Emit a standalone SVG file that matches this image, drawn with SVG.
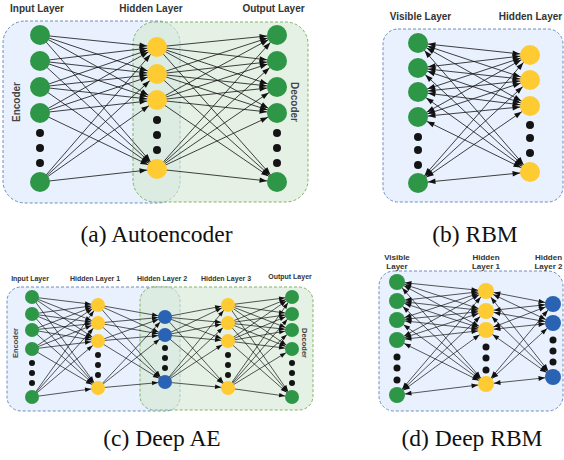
<svg xmlns="http://www.w3.org/2000/svg" width="564" height="460" viewBox="0 0 564 460">
<style>
.bg{fill:#fff}
.rb{fill:#dae8fc;fill-opacity:.62;stroke:#6c8ebf;stroke-dasharray:3 2;stroke-width:1}
.rg{fill:#d5e8d4;fill-opacity:.62;stroke:#82b366;stroke-dasharray:3 2;stroke-width:1}
.g{fill:#2e9747}.y{fill:#ffcb33}.b{fill:#2a63b4}.k{fill:#141414}
.lab{font-family:'Liberation Sans',Arial,sans-serif;font-weight:bold;fill:#333;text-anchor:middle}
.cap{font-family:'Liberation Serif','Times New Roman',serif;font-size:23.5px;fill:#111;text-anchor:middle}
.ca{stroke:#111;stroke-width:.8;fill:none;marker-end:url(#m10)}
.cb{stroke:#111;stroke-width:.8;fill:none;marker-end:url(#m10);marker-start:url(#m10)}
.cc{stroke:#111;stroke-width:.7;fill:none;marker-end:url(#m7)}
.cd{stroke:#111;stroke-width:.7;fill:none;marker-end:url(#m8);marker-start:url(#m8)}
</style>
<defs>
<marker id="m10" markerUnits="userSpaceOnUse" markerWidth="7.5" markerHeight="5.4" refX="17.5" refY="2.7" orient="auto-start-reverse" overflow="visible"><path d="M0,0 L7.5,2.7 L0,5.4 z" fill="#111"/></marker>
<marker id="m7" markerUnits="userSpaceOnUse" markerWidth="6" markerHeight="4.4" refX="13" refY="2.2" orient="auto-start-reverse" overflow="visible"><path d="M0,0 L6,2.2 L0,4.4 z" fill="#111"/></marker>
<marker id="m8" markerUnits="userSpaceOnUse" markerWidth="6.5" markerHeight="4.8" refX="14.5" refY="2.4" orient="auto-start-reverse" overflow="visible"><path d="M0,0 L6.5,2.4 L0,4.8 z" fill="#111"/></marker>
</defs>
<rect class="bg" x="0" y="0" width="564" height="460"/>

<g id="regions">
<rect class="rb" x="3" y="21" width="177" height="182" rx="22"/>
<rect class="rg" x="133" y="22" width="175" height="180" rx="22"/>
<rect class="rb" x="383" y="29" width="180" height="173" rx="15"/>
<rect class="rb" x="7" y="287" width="173" height="124" rx="14"/>
<rect class="rg" x="140" y="287" width="173" height="123" rx="14"/>
<rect class="rb" x="379" y="271" width="184" height="140" rx="15"/>
</g>

<g id="labels">
<text class="lab" x="37" y="12" font-size="10">Input Layer</text>
<text class="lab" x="151" y="12" font-size="10">Hidden Layer</text>
<text class="lab" x="273.5" y="12" font-size="10">Output Layer</text>
<text class="lab" x="16" y="102" font-size="10" dominant-baseline="central" transform="rotate(-90 16 102)" style="fill:#444">Encoder</text>
<text class="lab" x="294" y="102" font-size="10" dominant-baseline="central" transform="rotate(90 294 102)" style="fill:#444">Decoder</text>
<text class="lab" x="420.5" y="20" font-size="10">Visible Layer</text>
<text class="lab" x="530.5" y="20" font-size="10">Hidden Layer</text>
<text class="lab" x="30" y="281" font-size="7">Input Layer</text>
<text class="lab" x="95" y="281" font-size="7">Hidden Layer 1</text>
<text class="lab" x="162" y="281" font-size="7">Hidden Layer 2</text>
<text class="lab" x="226" y="281" font-size="7">Hidden Layer 3</text>
<text class="lab" x="290" y="279" font-size="7">Output Layer</text>
<text class="lab" x="15" y="343" font-size="7.5" dominant-baseline="central" transform="rotate(-90 15 343)" style="fill:#444">Encoder</text>
<text class="lab" x="304" y="343" font-size="7.5" dominant-baseline="central" transform="rotate(90 304 343)" style="fill:#444">Decoder</text>
<text class="lab" x="397" y="259.5" font-size="8">Visible</text>
<text class="lab" x="397" y="268.5" font-size="8">Layer</text>
<text class="lab" x="486" y="259.5" font-size="8">Hidden</text>
<text class="lab" x="486" y="268.5" font-size="8">Layer 1</text>
<text class="lab" x="548.5" y="259.5" font-size="8">Hidden</text>
<text class="lab" x="548.5" y="268.5" font-size="8">Layer 2</text>
</g>

<g id="connectors">
<line class="ca" x1="40" y1="35" x2="157" y2="47"/><line class="ca" x1="40" y1="35" x2="157" y2="74"/><line class="ca" x1="40" y1="35" x2="157" y2="100"/><line class="ca" x1="40" y1="35" x2="157" y2="169"/>
<line class="ca" x1="40" y1="61" x2="157" y2="47"/><line class="ca" x1="40" y1="61" x2="157" y2="74"/><line class="ca" x1="40" y1="61" x2="157" y2="100"/><line class="ca" x1="40" y1="61" x2="157" y2="169"/>
<line class="ca" x1="40" y1="87" x2="157" y2="47"/><line class="ca" x1="40" y1="87" x2="157" y2="74"/><line class="ca" x1="40" y1="87" x2="157" y2="100"/><line class="ca" x1="40" y1="87" x2="157" y2="169"/>
<line class="ca" x1="40" y1="113" x2="157" y2="47"/><line class="ca" x1="40" y1="113" x2="157" y2="74"/><line class="ca" x1="40" y1="113" x2="157" y2="100"/><line class="ca" x1="40" y1="113" x2="157" y2="169"/>
<line class="ca" x1="40" y1="182" x2="157" y2="47"/><line class="ca" x1="40" y1="182" x2="157" y2="74"/><line class="ca" x1="40" y1="182" x2="157" y2="100"/><line class="ca" x1="40" y1="182" x2="157" y2="169"/>
<line class="ca" x1="157" y1="47" x2="277" y2="35"/><line class="ca" x1="157" y1="47" x2="277" y2="61"/><line class="ca" x1="157" y1="47" x2="277" y2="87"/><line class="ca" x1="157" y1="47" x2="277" y2="113"/><line class="ca" x1="157" y1="47" x2="277" y2="182"/>
<line class="ca" x1="157" y1="74" x2="277" y2="35"/><line class="ca" x1="157" y1="74" x2="277" y2="61"/><line class="ca" x1="157" y1="74" x2="277" y2="87"/><line class="ca" x1="157" y1="74" x2="277" y2="113"/><line class="ca" x1="157" y1="74" x2="277" y2="182"/>
<line class="ca" x1="157" y1="100" x2="277" y2="35"/><line class="ca" x1="157" y1="100" x2="277" y2="61"/><line class="ca" x1="157" y1="100" x2="277" y2="87"/><line class="ca" x1="157" y1="100" x2="277" y2="113"/><line class="ca" x1="157" y1="100" x2="277" y2="182"/>
<line class="ca" x1="157" y1="169" x2="277" y2="35"/><line class="ca" x1="157" y1="169" x2="277" y2="61"/><line class="ca" x1="157" y1="169" x2="277" y2="87"/><line class="ca" x1="157" y1="169" x2="277" y2="113"/><line class="ca" x1="157" y1="169" x2="277" y2="182"/>
<line class="cb" x1="418" y1="43" x2="530" y2="55"/><line class="cb" x1="418" y1="43" x2="530" y2="80"/><line class="cb" x1="418" y1="43" x2="530" y2="106"/><line class="cb" x1="418" y1="43" x2="530" y2="172"/>
<line class="cb" x1="418" y1="68" x2="530" y2="55"/><line class="cb" x1="418" y1="68" x2="530" y2="80"/><line class="cb" x1="418" y1="68" x2="530" y2="106"/><line class="cb" x1="418" y1="68" x2="530" y2="172"/>
<line class="cb" x1="418" y1="92" x2="530" y2="55"/><line class="cb" x1="418" y1="92" x2="530" y2="80"/><line class="cb" x1="418" y1="92" x2="530" y2="106"/><line class="cb" x1="418" y1="92" x2="530" y2="172"/>
<line class="cb" x1="418" y1="117" x2="530" y2="55"/><line class="cb" x1="418" y1="117" x2="530" y2="80"/><line class="cb" x1="418" y1="117" x2="530" y2="106"/><line class="cb" x1="418" y1="117" x2="530" y2="172"/>
<line class="cb" x1="418" y1="183" x2="530" y2="55"/><line class="cb" x1="418" y1="183" x2="530" y2="80"/><line class="cb" x1="418" y1="183" x2="530" y2="106"/><line class="cb" x1="418" y1="183" x2="530" y2="172"/>
<line class="cc" x1="32" y1="297" x2="98" y2="305"/><line class="cc" x1="32" y1="297" x2="98" y2="323"/><line class="cc" x1="32" y1="297" x2="98" y2="341"/><line class="cc" x1="32" y1="297" x2="98" y2="388"/>
<line class="cc" x1="32" y1="314" x2="98" y2="305"/><line class="cc" x1="32" y1="314" x2="98" y2="323"/><line class="cc" x1="32" y1="314" x2="98" y2="341"/><line class="cc" x1="32" y1="314" x2="98" y2="388"/>
<line class="cc" x1="32" y1="330" x2="98" y2="305"/><line class="cc" x1="32" y1="330" x2="98" y2="323"/><line class="cc" x1="32" y1="330" x2="98" y2="341"/><line class="cc" x1="32" y1="330" x2="98" y2="388"/>
<line class="cc" x1="32" y1="349" x2="98" y2="305"/><line class="cc" x1="32" y1="349" x2="98" y2="323"/><line class="cc" x1="32" y1="349" x2="98" y2="341"/><line class="cc" x1="32" y1="349" x2="98" y2="388"/>
<line class="cc" x1="32" y1="397" x2="98" y2="305"/><line class="cc" x1="32" y1="397" x2="98" y2="323"/><line class="cc" x1="32" y1="397" x2="98" y2="341"/><line class="cc" x1="32" y1="397" x2="98" y2="388"/>
<line class="cc" x1="98" y1="305" x2="165" y2="317"/><line class="cc" x1="98" y1="305" x2="165" y2="335"/><line class="cc" x1="98" y1="305" x2="165" y2="382"/>
<line class="cc" x1="98" y1="323" x2="165" y2="317"/><line class="cc" x1="98" y1="323" x2="165" y2="335"/><line class="cc" x1="98" y1="323" x2="165" y2="382"/>
<line class="cc" x1="98" y1="341" x2="165" y2="317"/><line class="cc" x1="98" y1="341" x2="165" y2="335"/><line class="cc" x1="98" y1="341" x2="165" y2="382"/>
<line class="cc" x1="98" y1="388" x2="165" y2="317"/><line class="cc" x1="98" y1="388" x2="165" y2="335"/><line class="cc" x1="98" y1="388" x2="165" y2="382"/>
<line class="cc" x1="165" y1="317" x2="228" y2="305"/><line class="cc" x1="165" y1="317" x2="228" y2="323"/><line class="cc" x1="165" y1="317" x2="228" y2="341"/><line class="cc" x1="165" y1="317" x2="228" y2="388"/>
<line class="cc" x1="165" y1="335" x2="228" y2="305"/><line class="cc" x1="165" y1="335" x2="228" y2="323"/><line class="cc" x1="165" y1="335" x2="228" y2="341"/><line class="cc" x1="165" y1="335" x2="228" y2="388"/>
<line class="cc" x1="165" y1="382" x2="228" y2="305"/><line class="cc" x1="165" y1="382" x2="228" y2="323"/><line class="cc" x1="165" y1="382" x2="228" y2="341"/><line class="cc" x1="165" y1="382" x2="228" y2="388"/>
<line class="cc" x1="228" y1="305" x2="292" y2="297"/><line class="cc" x1="228" y1="305" x2="292" y2="314"/><line class="cc" x1="228" y1="305" x2="292" y2="330"/><line class="cc" x1="228" y1="305" x2="292" y2="349"/><line class="cc" x1="228" y1="305" x2="292" y2="397"/>
<line class="cc" x1="228" y1="323" x2="292" y2="297"/><line class="cc" x1="228" y1="323" x2="292" y2="314"/><line class="cc" x1="228" y1="323" x2="292" y2="330"/><line class="cc" x1="228" y1="323" x2="292" y2="349"/><line class="cc" x1="228" y1="323" x2="292" y2="397"/>
<line class="cc" x1="228" y1="341" x2="292" y2="297"/><line class="cc" x1="228" y1="341" x2="292" y2="314"/><line class="cc" x1="228" y1="341" x2="292" y2="330"/><line class="cc" x1="228" y1="341" x2="292" y2="349"/><line class="cc" x1="228" y1="341" x2="292" y2="397"/>
<line class="cc" x1="228" y1="388" x2="292" y2="297"/><line class="cc" x1="228" y1="388" x2="292" y2="314"/><line class="cc" x1="228" y1="388" x2="292" y2="330"/><line class="cc" x1="228" y1="388" x2="292" y2="349"/><line class="cc" x1="228" y1="388" x2="292" y2="397"/>
<line class="cd" x1="397" y1="282" x2="486" y2="291"/><line class="cd" x1="397" y1="282" x2="486" y2="311"/><line class="cd" x1="397" y1="282" x2="486" y2="330"/><line class="cd" x1="397" y1="282" x2="486" y2="384"/>
<line class="cd" x1="397" y1="301" x2="486" y2="291"/><line class="cd" x1="397" y1="301" x2="486" y2="311"/><line class="cd" x1="397" y1="301" x2="486" y2="330"/><line class="cd" x1="397" y1="301" x2="486" y2="384"/>
<line class="cd" x1="397" y1="320" x2="486" y2="291"/><line class="cd" x1="397" y1="320" x2="486" y2="311"/><line class="cd" x1="397" y1="320" x2="486" y2="330"/><line class="cd" x1="397" y1="320" x2="486" y2="384"/>
<line class="cd" x1="397" y1="340" x2="486" y2="291"/><line class="cd" x1="397" y1="340" x2="486" y2="311"/><line class="cd" x1="397" y1="340" x2="486" y2="330"/><line class="cd" x1="397" y1="340" x2="486" y2="384"/>
<line class="cd" x1="397" y1="395" x2="486" y2="291"/><line class="cd" x1="397" y1="395" x2="486" y2="311"/><line class="cd" x1="397" y1="395" x2="486" y2="330"/><line class="cd" x1="397" y1="395" x2="486" y2="384"/>
<line class="cd" x1="486" y1="291" x2="553" y2="304"/><line class="cd" x1="486" y1="291" x2="553" y2="323"/><line class="cd" x1="486" y1="291" x2="553" y2="377"/>
<line class="cd" x1="486" y1="311" x2="553" y2="304"/><line class="cd" x1="486" y1="311" x2="553" y2="323"/><line class="cd" x1="486" y1="311" x2="553" y2="377"/>
<line class="cd" x1="486" y1="330" x2="553" y2="304"/><line class="cd" x1="486" y1="330" x2="553" y2="323"/><line class="cd" x1="486" y1="330" x2="553" y2="377"/>
<line class="cd" x1="486" y1="384" x2="553" y2="304"/><line class="cd" x1="486" y1="384" x2="553" y2="323"/><line class="cd" x1="486" y1="384" x2="553" y2="377"/>
</g>

<g id="a-in1"><circle class="g" cx="40" cy="35" r="10"/></g>
<g id="a-in2"><circle class="g" cx="40" cy="61" r="10"/></g>
<g id="a-in3"><circle class="g" cx="40" cy="87" r="10"/></g>
<g id="a-in4"><circle class="g" cx="40" cy="113" r="10"/></g>
<g id="a-in-dots"><circle class="k" cx="40" cy="133" r="4"/><circle class="k" cx="40" cy="148" r="4"/><circle class="k" cx="40" cy="163" r="4"/></g>
<g id="a-in5"><circle class="g" cx="40" cy="182" r="10"/></g>
<g id="a-h1"><circle class="y" cx="157" cy="47" r="10"/></g>
<g id="a-h2"><circle class="y" cx="157" cy="74" r="10"/></g>
<g id="a-h3"><circle class="y" cx="157" cy="100" r="10"/></g>
<g id="a-h-dots"><circle class="k" cx="157" cy="120" r="4"/><circle class="k" cx="157" cy="135" r="4"/><circle class="k" cx="157" cy="150" r="4"/></g>
<g id="a-h4"><circle class="y" cx="157" cy="169" r="10"/></g>
<g id="a-out1"><circle class="g" cx="277" cy="35" r="10"/></g>
<g id="a-out2"><circle class="g" cx="277" cy="61" r="10"/></g>
<g id="a-out3"><circle class="g" cx="277" cy="87" r="10"/></g>
<g id="a-out4"><circle class="g" cx="277" cy="113" r="10"/></g>
<g id="a-out-dots"><circle class="k" cx="277" cy="133" r="4"/><circle class="k" cx="277" cy="148" r="4"/><circle class="k" cx="277" cy="163" r="4"/></g>
<g id="a-out5"><circle class="g" cx="277" cy="182" r="10"/></g>

<g id="b-v1"><circle class="g" cx="418" cy="43" r="10"/></g>
<g id="b-v2"><circle class="g" cx="418" cy="68" r="10"/></g>
<g id="b-v3"><circle class="g" cx="418" cy="92" r="10"/></g>
<g id="b-v4"><circle class="g" cx="418" cy="117" r="10"/></g>
<g id="b-v-dots"><circle class="k" cx="418" cy="137" r="4"/><circle class="k" cx="418" cy="150" r="4"/><circle class="k" cx="418" cy="165" r="4"/></g>
<g id="b-v5"><circle class="g" cx="418" cy="183" r="10"/></g>
<g id="b-h1"><circle class="y" cx="530" cy="55" r="10"/></g>
<g id="b-h2"><circle class="y" cx="530" cy="80" r="10"/></g>
<g id="b-h3"><circle class="y" cx="530" cy="106" r="10"/></g>
<g id="b-h-dots"><circle class="k" cx="530" cy="125" r="4"/><circle class="k" cx="530" cy="138" r="4"/><circle class="k" cx="530" cy="153" r="4"/></g>
<g id="b-h4"><circle class="y" cx="530" cy="172" r="10"/></g>

<g id="c-in1"><circle class="g" cx="32" cy="297" r="7"/></g>
<g id="c-in2"><circle class="g" cx="32" cy="314" r="7"/></g>
<g id="c-in3"><circle class="g" cx="32" cy="330" r="7"/></g>
<g id="c-in4"><circle class="g" cx="32" cy="349" r="7"/></g>
<g id="c-in-dots"><circle class="k" cx="32" cy="363" r="3"/><circle class="k" cx="32" cy="373" r="3"/><circle class="k" cx="32" cy="383" r="3"/></g>
<g id="c-in5"><circle class="g" cx="32" cy="397" r="7"/></g>
<g id="c-h1a"><circle class="y" cx="98" cy="305" r="7"/></g>
<g id="c-h1b"><circle class="y" cx="98" cy="323" r="7"/></g>
<g id="c-h1c"><circle class="y" cx="98" cy="341" r="7"/></g>
<g id="c-h1-dots"><circle class="k" cx="98" cy="355" r="3"/><circle class="k" cx="98" cy="365" r="3"/><circle class="k" cx="98" cy="375" r="3"/></g>
<g id="c-h1d"><circle class="y" cx="98" cy="388" r="7"/></g>
<g id="c-h2a"><circle class="b" cx="165" cy="317" r="7"/></g>
<g id="c-h2b"><circle class="b" cx="165" cy="335" r="7"/></g>
<g id="c-h2-dots"><circle class="k" cx="165" cy="348" r="3"/><circle class="k" cx="165" cy="358" r="3"/><circle class="k" cx="165" cy="368" r="3"/></g>
<g id="c-h2c"><circle class="b" cx="165" cy="382" r="7"/></g>
<g id="c-h3a"><circle class="y" cx="228" cy="305" r="7"/></g>
<g id="c-h3b"><circle class="y" cx="228" cy="323" r="7"/></g>
<g id="c-h3c"><circle class="y" cx="228" cy="341" r="7"/></g>
<g id="c-h3-dots"><circle class="k" cx="228" cy="355" r="3"/><circle class="k" cx="228" cy="365" r="3"/><circle class="k" cx="228" cy="375" r="3"/></g>
<g id="c-h3d"><circle class="y" cx="228" cy="388" r="7"/></g>
<g id="c-out1"><circle class="g" cx="292" cy="297" r="7"/></g>
<g id="c-out2"><circle class="g" cx="292" cy="314" r="7"/></g>
<g id="c-out3"><circle class="g" cx="292" cy="330" r="7"/></g>
<g id="c-out4"><circle class="g" cx="292" cy="349" r="7"/></g>
<g id="c-out-dots"><circle class="k" cx="292" cy="363" r="3"/><circle class="k" cx="292" cy="373" r="3"/><circle class="k" cx="292" cy="383" r="3"/></g>
<g id="c-out5"><circle class="g" cx="292" cy="397" r="7"/></g>

<g id="d-v1"><circle class="g" cx="397" cy="282" r="8"/></g>
<g id="d-v2"><circle class="g" cx="397" cy="301" r="8"/></g>
<g id="d-v3"><circle class="g" cx="397" cy="320" r="8"/></g>
<g id="d-v4"><circle class="g" cx="397" cy="340" r="8"/></g>
<g id="d-v-dots"><circle class="k" cx="397" cy="357" r="3.5"/><circle class="k" cx="397" cy="368" r="3.5"/><circle class="k" cx="397" cy="380" r="3.5"/></g>
<g id="d-v5"><circle class="g" cx="397" cy="395" r="8"/></g>
<g id="d-h1a"><circle class="y" cx="486" cy="291" r="8"/></g>
<g id="d-h1b"><circle class="y" cx="486" cy="311" r="8"/></g>
<g id="d-h1c"><circle class="y" cx="486" cy="330" r="8"/></g>
<g id="d-h1-dots"><circle class="k" cx="486" cy="347" r="3.5"/><circle class="k" cx="486" cy="358" r="3.5"/><circle class="k" cx="486" cy="370" r="3.5"/></g>
<g id="d-h1d"><circle class="y" cx="486" cy="384" r="8"/></g>
<g id="d-h2a"><circle class="b" cx="553" cy="304" r="8"/></g>
<g id="d-h2b"><circle class="b" cx="553" cy="323" r="8"/></g>
<g id="d-h2-dots"><circle class="k" cx="553" cy="340" r="3.5"/><circle class="k" cx="553" cy="351" r="3.5"/><circle class="k" cx="553" cy="362" r="3.5"/></g>
<g id="d-h2c"><circle class="b" cx="553" cy="377" r="8"/></g>

<g id="captions">
<text class="cap" x="156.5" y="242">(a) Autoencoder</text>
<text class="cap" x="475" y="242">(b) RBM</text>
<text class="cap" x="162" y="446">(c) Deep AE</text>
<text class="cap" x="472" y="446">(d) Deep RBM</text>
</g>
</svg>
